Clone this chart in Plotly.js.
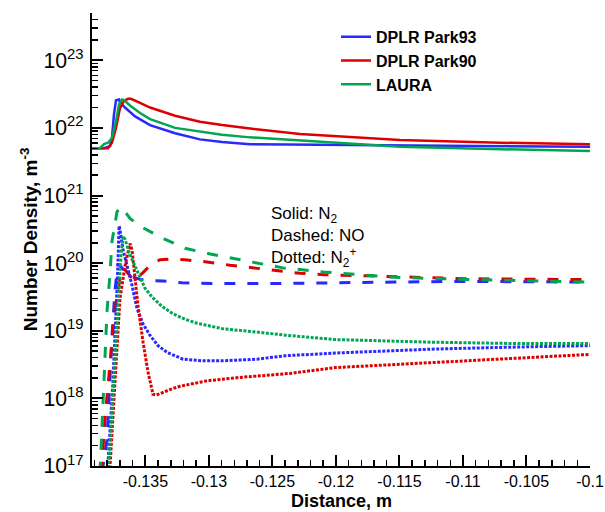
<!DOCTYPE html>
<html>
<head>
<meta charset="utf-8">
<script src="https://cdn.plot.ly/plotly-3.0.1.min.js"></script>
<style>
  html, body { margin: 0; padding: 0; background: #fff; }
  #plot { width: 605px; height: 512px; }
</style>
</head>
<body>
<div id="plot"></div>
<script>
// x tick labels
const xTickVals = [-0.135, -0.13, -0.125, -0.12, -0.115, -0.11, -0.105, -0.1];
const xTickText = ['-0.135', '-0.13', '-0.125', '-0.12', '-0.115', '-0.11', '-0.105', '-0.1'];

// N2 (solid)
const n2_park93_x = [-0.1392, -0.13826, -0.13778, -0.13763, -0.13747, -0.13731, -0.13707, -0.13700, -0.13660, -0.13581, -0.13463, -0.13266, -0.13070, -0.12896, -0.12676, -0.12283, -0.11495, -0.10707, -0.1000];
const n2_park93_y = [5.01e21, 5.01e21, 5.37e21, 7.08e21, 1.585e22, 2.57e22, 2.63e22, 2.40e22, 2.00e22, 1.48e22, 1.10e22, 8.32e21, 6.76e21, 6.17e21, 5.75e21, 5.69e21, 5.43e21, 5.37e21, 5.25e21];

const n2_park90_x = [-0.1392, -0.13794, -0.13763, -0.13731, -0.13700, -0.13668, -0.13637, -0.13613, -0.13542, -0.13463, -0.13266, -0.13070, -0.12896, -0.12676, -0.12283, -0.11889, -0.11495, -0.10707, -0.1000];
const n2_park90_y = [5.01e21, 5.01e21, 6.03e21, 1.0e22, 1.95e22, 2.51e22, 2.69e22, 2.69e22, 2.34e22, 2.00e22, 1.51e22, 1.23e22, 1.10e22, 9.77e21, 8.13e21, 7.24e21, 6.61e21, 6.03e21, 5.75e21];

const n2_laura_x = [-0.1392, -0.13857, -0.13826, -0.13794, -0.13763, -0.13731, -0.13707, -0.13684, -0.13668, -0.13621, -0.13542, -0.13463, -0.13266, -0.13070, -0.12896, -0.12676, -0.12283, -0.11889, -0.11495, -0.10707, -0.1000];
const n2_laura_y = [5.01e21, 5.01e21, 5.75e21, 6.03e21, 7.08e21, 1.26e22, 2.24e22, 2.63e22, 2.57e22, 2.14e22, 1.66e22, 1.35e22, 1.0e22, 8.91e21, 7.94e21, 7.24e21, 6.46e21, 5.75e21, 5.25e21, 4.84e21, 4.57e21];

// NO (dashed)
const no_laura_x = [-0.13857, -0.13833, -0.13818, -0.13802, -0.13778, -0.13763, -0.13723, -0.13692, -0.13668, -0.13621, -0.13526, -0.13353, -0.13188, -0.12999, -0.12676, -0.12416, -0.12283, -0.12101, -0.11534, -0.10983, -0.1000];
const no_laura_y = [7.94e16, 6.92e17, 3.80e18, 1.91e19, 7.08e19, 2.09e20, 5.75e20, 6.76e20, 6.03e20, 4.57e20, 3.39e20, 2.29e20, 1.66e20, 1.38e20, 1.05e20, 8.51e19, 8.04e19, 7.41e19, 6.17e19, 5.75e19, 5.25e19];

const no_park90_x = [-0.13849, -0.13841, -0.13818, -0.13794, -0.13763, -0.13739, -0.13700, -0.13668, -0.13637, -0.13589, -0.13518, -0.13448, -0.13385, -0.13306, -0.13188, -0.13030, -0.12833, -0.12416, -0.12283, -0.12101, -0.11534, -0.10983, -0.1000];
const no_park90_y = [7.94e16, 1.12e17, 4.90e17, 1.74e18, 6.76e18, 2.09e19, 5.89e19, 8.32e19, 7.08e19, 5.50e19, 7.24e19, 1.0e20, 1.12e20, 1.15e20, 1.12e20, 1.05e20, 9.33e19, 7.59e19, 7.08e19, 6.76e19, 6.31e19, 5.89e19, 5.69e19];

const no_park93_x = [-0.13841, -0.13802, -0.13778, -0.13763, -0.13739, -0.13715, -0.13692, -0.13652, -0.13621, -0.13542, -0.13448, -0.13361, -0.13211, -0.12975, -0.12416, -0.12101, -0.11534, -0.10983, -0.1000];
const no_park93_y = [7.94e16, 2.45e17, 2.14e18, 8.32e18, 3.98e19, 9.77e19, 8.91e19, 7.08e19, 6.46e19, 5.75e19, 5.50e19, 5.43e19, 5.13e19, 5.01e19, 5.01e19, 5.13e19, 5.25e19, 5.37e19, 5.25e19];

// N2+ (dotted)
const n2p_park93_x = [-0.13802, -0.13794, -0.13755, -0.13731, -0.13719, -0.13707, -0.13700, -0.13676, -0.13644, -0.13605, -0.13566, -0.13518, -0.13463, -0.13400, -0.13329, -0.13203, -0.13046, -0.12889, -0.12621, -0.12400, -0.12007, -0.11220, -0.10566, -0.1000];
const n2p_park93_y = [7.94e16, 1.12e17, 1.74e18, 1.58e19, 6.31e19, 3.55e20, 3.16e20, 1.58e20, 9.12e19, 4.68e19, 2.14e19, 1.26e19, 8.51e18, 6.03e18, 4.79e18, 3.80e18, 3.59e18, 3.59e18, 3.80e18, 4.27e18, 4.68e18, 5.37e18, 5.75e18, 6.03e18];

const n2p_laura_x = [-0.13794, -0.13778, -0.13747, -0.13715, -0.13692, -0.13676, -0.13660, -0.13621, -0.13581, -0.13550, -0.13503, -0.13448, -0.13369, -0.13282, -0.13188, -0.13093, -0.12889, -0.12621, -0.12400, -0.12007, -0.11220, -0.10566, -0.1000];
const n2p_laura_y = [7.94e16, 2.0e17, 2.0e18, 2.51e19, 1.26e20, 2.51e20, 2.24e20, 1.32e20, 8.91e19, 6.61e19, 4.27e19, 3.16e19, 2.29e19, 1.78e19, 1.48e19, 1.29e19, 1.07e19, 9.55e18, 8.61e18, 7.41e18, 6.76e18, 6.46e18, 6.46e18];

const n2p_park90_x = [-0.13786, -0.13778, -0.13739, -0.13700, -0.13660, -0.13621, -0.13605, -0.13581, -0.13558, -0.13518, -0.13479, -0.13440, -0.13416, -0.13385, -0.13306, -0.13227, -0.13014, -0.12755, -0.12361, -0.12007, -0.11220, -0.10566, -0.1000];
const n2p_park90_y = [7.94e16, 1.0e17, 1.74e18, 2.95e19, 9.12e19, 1.95e20, 1.58e20, 6.31e19, 2.34e19, 6.76e18, 2.45e18, 1.15e18, 1.12e18, 1.17e18, 1.35e18, 1.51e18, 1.82e18, 2.04e18, 2.34e18, 2.85e18, 3.39e18, 3.89e18, 4.47e18];

const BLUE = 'rgb(40,40,255)';
const RED = 'rgb(222,0,0)';
const GREEN = 'rgb(0,166,81)';
const FONT = 'Liberation Sans, Arial, Helvetica, sans-serif';

function line(x, y, color, dash, width, name) {
	return {
		x: x, y: y,
		mode: 'lines',
		type: 'scatter',
		name: name || '',
		showlegend: !!name,
		line: { color: color, dash: dash, width: width }
	};
}

const DASH = '11px,12px';
const DOT = '3px,1.5px';

const traces = [
	line(no_park93_x, no_park93_y, BLUE, DASH, 3),
	line(no_park90_x, no_park90_y, RED, DASH, 3),
	line(no_laura_x, no_laura_y, GREEN, DASH, 3),
	line(n2p_park93_x, n2p_park93_y, BLUE, DOT, 3),
	line(n2p_park90_x, n2p_park90_y, RED, DOT, 3),
	line(n2p_laura_x, n2p_laura_y, GREEN, DOT, 3),
	line(n2_park93_x, n2_park93_y, BLUE, 'solid', 2.5, 'DPLR Park93'),
	line(n2_park90_x, n2_park90_y, RED, 'solid', 2.5, 'DPLR Park90'),
	line(n2_laura_x, n2_laura_y, GREEN, 'solid', 2.5, 'LAURA')
];

const layout = {
	width: 605,
	height: 512,
	margin: { l: 92, r: 15, t: 13, b: 46 },
	paper_bgcolor: '#fff',
	plot_bgcolor: '#fff',
	font: { family: FONT, size: 16, color: '#000' },
	showlegend: true,
	legend: {
		x: 0.49, y: 0.985, xanchor: 'left', yanchor: 'top',
		traceorder: 'normal',
		font: { family: FONT, size: 16, color: '#000', weight: 'bold' },
		bgcolor: 'rgba(0,0,0,0)',
		tracegroupgap: 0,
		itemwidth: 30
	},
	xaxis: {
		range: [-0.1392, -0.1],
		tickmode: 'array',
		tickvals: xTickVals,
		ticktext: xTickText,
		ticks: 'inside',
		ticklen: 11,
		tickwidth: 2,
		tickcolor: '#000',
		ticklabelstandoff: 0,
		ticklabeloverflow: 'allow',
		showline: true,
		linewidth: 2,
		linecolor: '#000',
		showgrid: false,
		zeroline: false,
		tickfont: { size: 16 },
		minor: { ticks: 'inside', ticklen: 6, tickwidth: 1.5, tickcolor: '#000', dtick: 0.001, tick0: -0.1, showgrid: false }
	},
	yaxis: {
		type: 'log',
		range: [17, 23.699],
		dtick: 1,
		exponentformat: 'power',
		ticks: 'inside',
		ticklen: 11,
		tickwidth: 2,
		tickcolor: '#000',
		ticklabelstandoff: 3,
		showline: true,
		linewidth: 2,
		linecolor: '#000',
		showgrid: false,
		zeroline: false,
		tickfont: { size: 17 },
		minor: { ticks: 'inside', ticklen: 6, tickwidth: 1.5, tickcolor: '#000', dtick: 'D1', showgrid: false },
		title: { text: 'Number Density, m<sup>-3</sup>', font: { size: 19, weight: 'bold' } }
	},
	annotations: [{
		xref: 'paper', yref: 'paper',
		x: 0.355, y: 0.582,
		xanchor: 'left', yanchor: 'top',
		align: 'left',
		showarrow: false,
		font: { family: FONT, size: 17, color: '#000' },
		text: 'Solid: N<sub>2</sub><br>Dashed: NO<br>Dotted: N<sub>2</sub><sup>+</sup>'
	}, {
		// x axis title
		xref: 'paper', yref: 'paper',
		x: 0.5, y: 0,
		xanchor: 'center', yanchor: 'top',
		yshift: -24,
		borderpad: 0,
		showarrow: false,
		font: { family: FONT, size: 18, color: '#000', weight: 'bold' },
		text: 'Distance, m'
	}]
};

Plotly.newPlot('plot', traces, layout, { displayModeBar: false, staticPlot: true });
</script>
</body>
</html>
